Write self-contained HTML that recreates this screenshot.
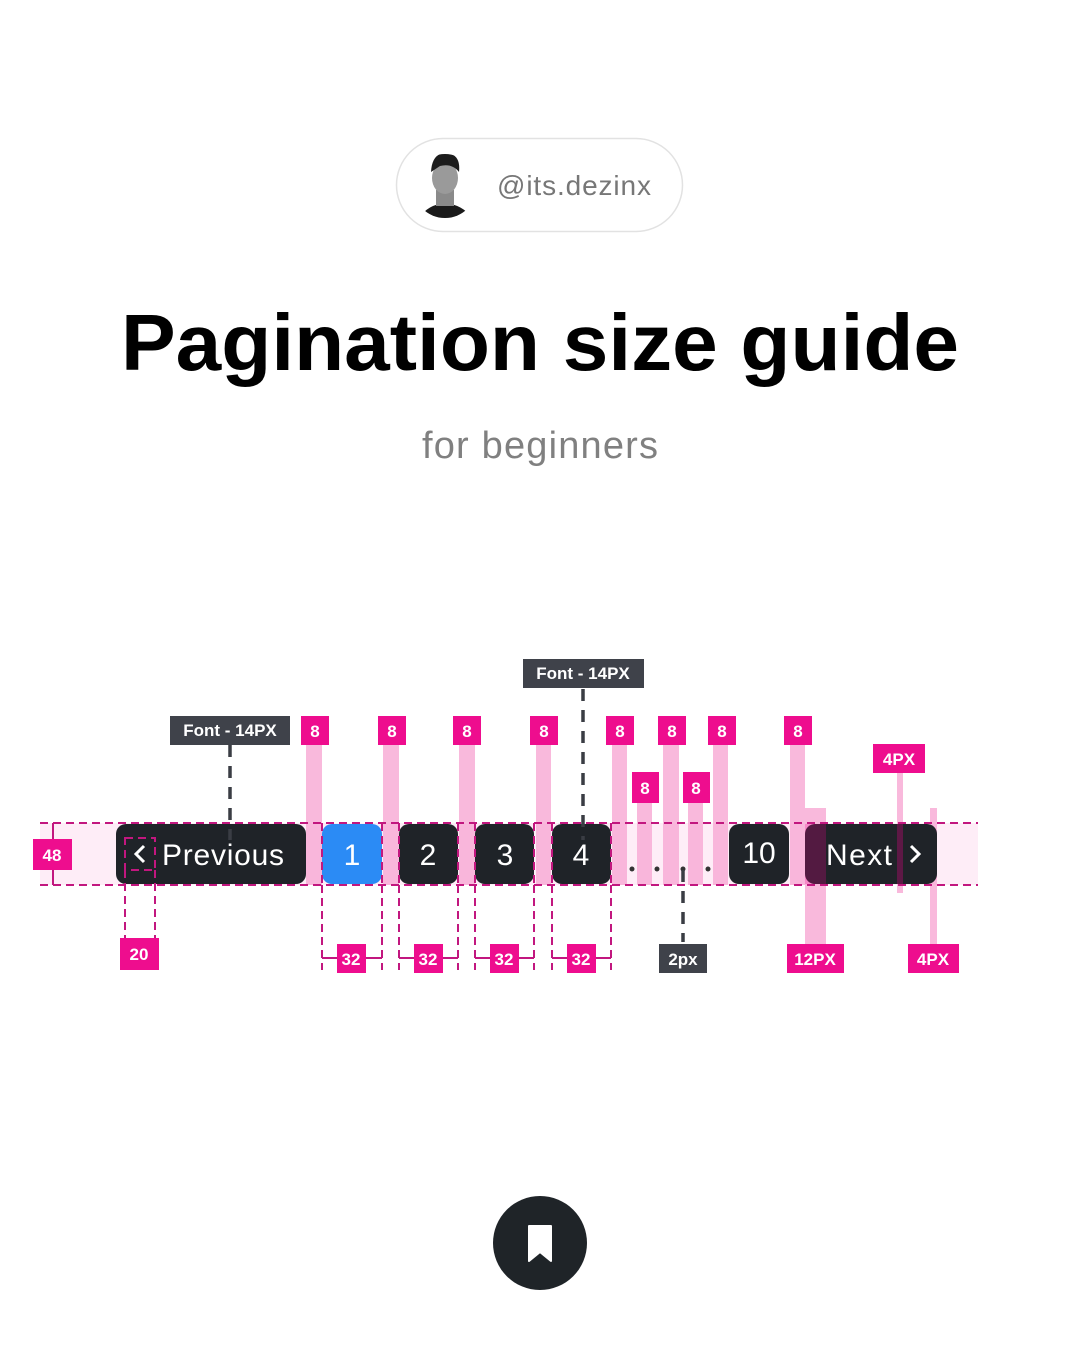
<!DOCTYPE html>
<html><head><meta charset="utf-8"><style>
html,body{margin:0;padding:0;background:#fff;}
body{width:1080px;height:1350px;overflow:hidden;position:relative;font-family:"Liberation Sans",sans-serif;}
</style></head><body>
<svg width="1080" height="1350" viewBox="0 0 1080 1350" xmlns="http://www.w3.org/2000/svg" style="position:absolute;left:0;top:0">
<!-- header pill -->
<rect x="396.5" y="138.5" width="286" height="93" rx="46.5" fill="#fff" stroke="#e2e2e2" stroke-width="1.5"/>
<clipPath id="av"><circle cx="445" cy="186" r="32"/></clipPath>
<g clip-path="url(#av)">
<rect x="410" y="150" width="70" height="80" fill="#fff"/>
<path d="M417 222 Q425 205 445 203 Q465 205 475 222 Z" fill="#1a1a1a"/>
<rect x="436" y="190" width="18" height="16" fill="#8a8a8a"/>
<ellipse cx="445" cy="178" rx="13" ry="16" fill="#9a9a9a"/>
<path d="M431 172 Q432 153 446 153 Q461 154 459 172 Q452 163 440 166 Z" fill="#1c1c1c"/>
</g>
<text x="497" y="195" font-family="Liberation Sans,sans-serif" font-size="28" fill="#777" textLength="154">@its.dezinx</text>
<!-- title -->
<text x="540" y="370" text-anchor="middle" font-family="Liberation Sans,sans-serif" font-weight="bold" font-size="80" fill="#000" textLength="838" lengthAdjust="spacingAndGlyphs">Pagination size guide</text>
<text x="540" y="458" text-anchor="middle" font-family="Liberation Sans,sans-serif" font-size="38" fill="#808080" textLength="236">for beginners</text>

<!-- band -->
<rect x="40" y="823" width="938" height="62" fill="#f0008c" fill-opacity="0.07"/>
<!-- pink columns -->
<g fill="#f7a8d3" fill-opacity="0.8">
<rect x="306" y="745" width="16" height="140"/>
<rect x="383" y="745" width="16" height="140"/>
<rect x="459" y="745" width="16" height="140"/>
<rect x="536" y="745" width="15" height="140"/>
<rect x="612" y="745" width="15" height="140"/>
<rect x="637" y="800" width="15" height="85"/>
<rect x="663" y="745" width="16" height="140"/>
<rect x="688" y="800" width="15" height="85"/>
<rect x="713" y="745" width="15" height="140"/>
<rect x="790" y="745" width="15" height="140"/>
<rect x="805" y="808" width="21" height="137"/>
<rect x="897" y="772" width="6" height="121"/>
<rect x="930" y="808" width="7" height="137"/>
</g>
<!-- buttons -->
<g font-family="Liberation Sans,sans-serif" font-size="30" fill="#fff">
<rect x="116" y="824" width="190" height="60" rx="10" fill="#1f2328"/>
<rect x="322" y="824" width="60" height="60" rx="10" fill="#2b8bf5"/>
<rect x="399" y="824" width="59" height="60" rx="10" fill="#1f2328"/>
<rect x="475" y="824" width="59" height="60" rx="10" fill="#1f2328"/>
<rect x="552" y="824" width="59" height="60" rx="10" fill="#1f2328"/>
<rect x="729" y="824" width="60" height="60" rx="10" fill="#1f2328"/>
<rect x="805" y="824" width="132" height="60" rx="10" fill="#1f2328"/>
<rect x="805" y="824" width="21" height="60" fill="#f0008c" fill-opacity="0.25"/>
<rect x="897" y="824" width="6" height="60" fill="#f0008c" fill-opacity="0.3"/>
<path d="M144 846 L136 854 L144 862" stroke="#fff" stroke-width="3" fill="none"/>
<text x="162" y="865" textLength="122">Previous</text>
<text x="352" y="865" text-anchor="middle">1</text>
<text x="428" y="865" text-anchor="middle">2</text>
<text x="505" y="865" text-anchor="middle">3</text>
<text x="581" y="865" text-anchor="middle">4</text>
<text x="759" y="863" text-anchor="middle">10</text>
<text x="826" y="865" textLength="66">Next</text>
<path d="M911 846 L919 854 L911 862" stroke="#fff" stroke-width="3" fill="none"/>
</g>
<!-- dots -->
<g fill="#333"><circle cx="632" cy="869" r="2.5"/><circle cx="657" cy="869" r="2.5"/><circle cx="683" cy="869" r="2.5"/><circle cx="708" cy="869" r="2.5"/></g>
<!-- dashed guides -->
<g stroke="#c2177f" stroke-width="2" stroke-dasharray="8,5" fill="none">
<line x1="40" y1="823" x2="978" y2="823"/>
<line x1="40" y1="885" x2="978" y2="885"/>
<rect x="125" y="838" width="30" height="32"/>
<line x1="125" y1="870" x2="125" y2="938"/>
<line x1="155" y1="870" x2="155" y2="938"/>
<line x1="322" y1="885" x2="322" y2="970"/><line x1="382" y1="885" x2="382" y2="970"/>
<line x1="399" y1="885" x2="399" y2="970"/><line x1="458" y1="885" x2="458" y2="970"/>
<line x1="475" y1="885" x2="475" y2="970"/><line x1="534" y1="885" x2="534" y2="970"/>
<line x1="552" y1="885" x2="552" y2="970"/><line x1="611" y1="885" x2="611" y2="970"/>
<line x1="322" y1="823" x2="322" y2="885"/><line x1="382" y1="823" x2="382" y2="885"/>
<line x1="399" y1="823" x2="399" y2="885"/><line x1="458" y1="823" x2="458" y2="885"/>
<line x1="475" y1="823" x2="475" y2="885"/><line x1="534" y1="823" x2="534" y2="885"/>
<line x1="552" y1="823" x2="552" y2="885"/><line x1="611" y1="823" x2="611" y2="885"/>
</g>
<g stroke="#c2177f" stroke-width="2">
<line x1="53" y1="823" x2="53" y2="885"/>
<line x1="322" y1="958" x2="382" y2="958"/><line x1="399" y1="958" x2="458" y2="958"/>
<line x1="475" y1="958" x2="534" y2="958"/><line x1="552" y1="958" x2="611" y2="958"/>
</g>
<!-- dark dashed -->
<g stroke="#3a3d44" stroke-width="3.5" stroke-dasharray="12,9">
<line x1="230" y1="745" x2="230" y2="840"/>
<line x1="583" y1="689" x2="583" y2="840"/>
<line x1="683" y1="870" x2="683" y2="942"/>
</g>
<!-- labels -->
<g font-family="Liberation Sans,sans-serif" font-weight="bold" font-size="17" fill="#fff" text-anchor="middle">
<rect x="170" y="716" width="120" height="29" fill="#3f424a"/><text x="230" y="736">Font - 14PX</text>
<rect x="523" y="659" width="121" height="29" fill="#3f424a"/><text x="583" y="679">Font - 14PX</text>
<rect x="659" y="944" width="48" height="29" fill="#3f424a"/><text x="683" y="965">2px</text>
<g fill="#ee0d8e">
<rect x="301" y="716" width="28" height="29"/><rect x="378" y="716" width="28" height="29"/>
<rect x="453" y="716" width="28" height="29"/><rect x="530" y="716" width="28" height="29"/>
<rect x="606" y="716" width="28" height="29"/><rect x="658" y="716" width="28" height="29"/>
<rect x="708" y="716" width="28" height="29"/><rect x="784" y="716" width="28" height="29"/>
<rect x="632" y="772" width="27" height="31"/><rect x="683" y="772" width="27" height="31"/>
<rect x="873" y="744" width="52" height="29"/><rect x="908" y="944" width="51" height="29"/>
<rect x="787" y="944" width="57" height="29"/>
<rect x="33" y="839" width="39" height="31"/><rect x="120" y="938" width="39" height="32"/>
<rect x="337" y="944" width="29" height="29"/><rect x="414" y="944" width="29" height="29"/>
<rect x="490" y="944" width="29" height="29"/><rect x="567" y="944" width="29" height="29"/>
</g>
<text x="315" y="737">8</text><text x="392" y="737">8</text><text x="467" y="737">8</text><text x="544" y="737">8</text>
<text x="620" y="737">8</text><text x="672" y="737">8</text><text x="722" y="737">8</text><text x="798" y="737">8</text>
<text x="645" y="794">8</text><text x="696" y="794">8</text>
<text x="899" y="765">4PX</text><text x="933" y="965">4PX</text><text x="815" y="965">12PX</text>
<text x="52" y="861">48</text><text x="139" y="960">20</text>
<text x="351" y="965">32</text><text x="428" y="965">32</text><text x="504" y="965">32</text><text x="581" y="965">32</text>
</g>
<!-- bookmark -->
<circle cx="540" cy="1243" r="47" fill="#1f2428"/>
<path d="M529 1226 H551 V1261 L540 1252 L529 1261 Z" fill="#fff" stroke="#fff" stroke-width="2" stroke-linejoin="round"/>
</svg>
</body></html>
